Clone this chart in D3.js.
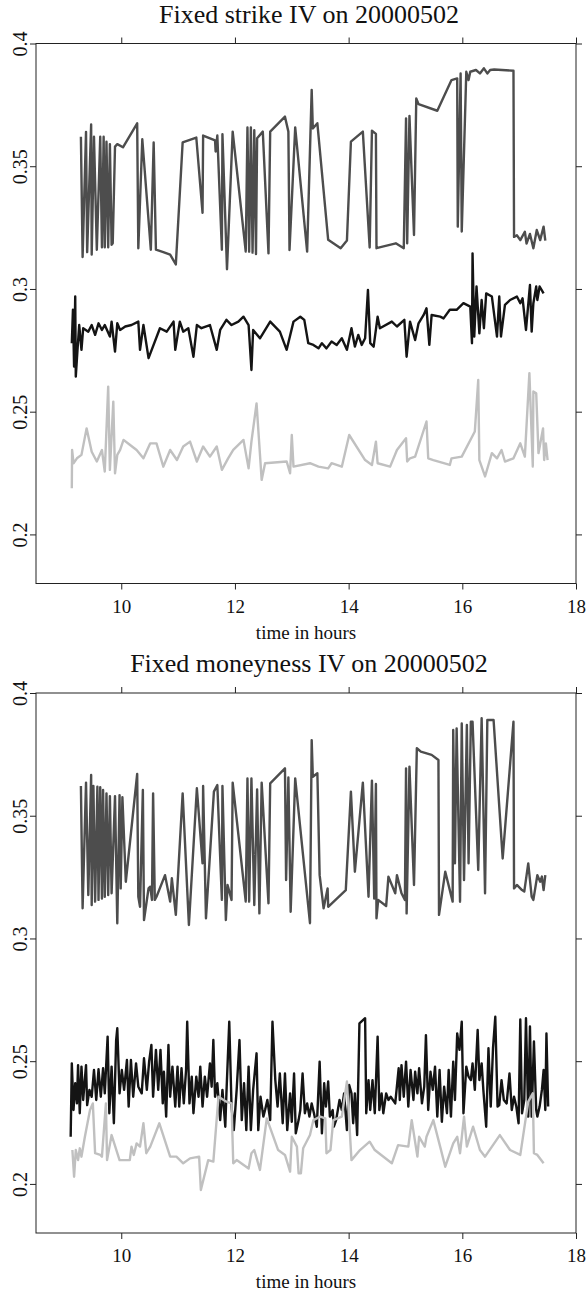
<!DOCTYPE html>
<html>
<head>
<meta charset="utf-8">
<script src="https://cdn.jsdelivr.net/npm/d3@7"></script>
<style>
	body { margin: 0; background: #fff; }
	svg { display: block; }
	text { font-family: "Liberation Serif", "Times New Roman", serif; fill: #111; }
</style>
</head>
<body>
<div id="graphic-wrapper"></div>
<script>
const X_TICKS = [10, 12, 14, 16, 18]
const Y_TICKS = [0.2, 0.25, 0.3, 0.35, 0.4]
const X_DOMAIN = [8.5, 18]
const Y_DOMAIN = [0.18, 0.4]
const X_LABEL = "time in hours"
const TITLES = ["Fixed strike IV on 20000502", "Fixed moneyness IV on 20000502"]

// [time in hours, implied vol]
const strikeHigh = [[9.29,0.362],[9.32,0.313],[9.38,0.364],[9.40,0.315],[9.47,0.367],[9.48,0.314],[9.52,0.362],[9.57,0.316],[9.63,0.362],[9.66,0.317],[9.69,0.362],[9.71,0.317],[9.74,0.360],[9.77,0.317],[9.80,0.359],[9.83,0.318],[9.85,0.3186],[9.89,0.358],[9.93,0.359],[10.03,0.3577],[10.28,0.3675],[10.30,0.3166],[10.37,0.361],[10.52,0.316],[10.57,0.3597],[10.61,0.316],[10.74,0.315],[10.86,0.314],[10.96,0.310],[11.08,0.3597],[11.32,0.3617],[11.43,0.331],[11.44,0.3625],[11.65,0.3605],[11.66,0.356],[11.69,0.3625],[11.77,0.316],[11.78,0.363],[11.86,0.308],[11.96,0.3641],[12.19,0.3152],[12.22,0.3658],[12.25,0.3152],[12.28,0.3658],[12.31,0.3148],[12.34,0.3647],[12.37,0.3142],[12.39,0.3614],[12.49,0.3641],[12.59,0.3145],[12.62,0.3641],[12.88,0.3702],[12.94,0.3641],[12.96,0.3159],[13.06,0.3658],[13.27,0.3152],[13.35,0.3811],[13.37,0.3654],[13.45,0.3675],[13.64,0.3200],[13.86,0.3166],[13.97,0.3197],[14.04,0.3600],[14.25,0.3641],[14.37,0.3169],[14.41,0.3645],[14.48,0.3632],[14.49,0.3166],[14.83,0.3186],[14.97,0.3166],[15.01,0.3695],[15.03,0.3186],[15.07,0.3705],[15.15,0.3220],[15.19,0.3776],[15.23,0.3753],[15.56,0.3726],[15.81,0.3851],[15.91,0.3858],[15.92,0.3254],[15.97,0.3878],[15.99,0.3234],[16.07,0.3885],[16.11,0.3851],[16.14,0.3885],[16.24,0.3892],[16.31,0.3878],[16.38,0.3899],[16.44,0.3878],[16.49,0.3892],[16.56,0.3894],[16.90,0.3889],[16.91,0.3212],[16.96,0.3219],[17.02,0.3199],[17.10,0.3233],[17.13,0.3185],[17.19,0.3224],[17.25,0.3166],[17.31,0.3240],[17.37,0.3199],[17.43,0.3254],[17.46,0.3197]]

const strikeMid = [[9.13,0.2779],[9.15,0.2915],[9.17,0.2684],[9.19,0.2969],[9.20,0.2643],[9.23,0.2752],[9.26,0.2853],[9.30,0.2752],[9.33,0.2840],[9.42,0.2826],[9.48,0.2853],[9.54,0.2813],[9.60,0.2860],[9.66,0.2833],[9.71,0.2853],[9.80,0.2806],[9.83,0.2867],[9.89,0.2745],[9.93,0.2860],[9.98,0.2833],[10.07,0.2847],[10.18,0.2853],[10.30,0.2867],[10.33,0.2752],[10.39,0.2853],[10.48,0.2718],[10.68,0.2840],[10.80,0.2826],[10.92,0.2867],[10.95,0.2752],[11.03,0.2867],[11.09,0.2826],[11.18,0.2840],[11.27,0.2724],[11.33,0.2853],[11.41,0.2840],[11.56,0.2853],[11.68,0.2752],[11.74,0.2833],[11.85,0.2874],[11.94,0.2853],[12.06,0.2867],[12.15,0.2887],[12.24,0.2853],[12.29,0.2670],[12.32,0.2833],[12.44,0.2799],[12.62,0.2867],[12.79,0.2826],[12.91,0.2752],[13.03,0.2867],[13.15,0.2887],[13.22,0.2874],[13.29,0.2779],[13.38,0.2772],[13.47,0.2758],[13.53,0.2779],[13.61,0.2758],[13.70,0.2786],[13.79,0.2772],[13.88,0.2799],[13.97,0.2752],[14.05,0.2840],[14.11,0.2765],[14.17,0.2813],[14.23,0.2772],[14.29,0.2799],[14.34,0.2996],[14.38,0.2779],[14.44,0.2765],[14.51,0.2887],[14.55,0.2840],[14.76,0.2867],[14.85,0.2847],[14.98,0.2874],[15.02,0.2724],[15.08,0.2867],[15.17,0.2792],[15.23,0.2860],[15.32,0.2894],[15.37,0.2921],[15.42,0.2772],[15.46,0.2894],[15.61,0.2887],[15.67,0.2880],[15.78,0.2915],[15.90,0.2915],[16.02,0.2942],[16.14,0.2928],[16.17,0.2779],[16.18,0.3145],[16.21,0.2806],[16.25,0.3010],[16.30,0.2819],[16.34,0.2955],[16.38,0.2840],[16.42,0.2982],[16.52,0.2969],[16.61,0.2806],[16.65,0.2969],[16.68,0.2806],[16.75,0.2935],[16.84,0.2955],[16.96,0.2969],[17.02,0.2942],[17.06,0.2962],[17.12,0.2833],[17.19,0.3016],[17.22,0.2826],[17.25,0.2942],[17.30,0.3010],[17.32,0.2955],[17.36,0.3010],[17.43,0.2982]]

const strikeLow = [[9.13,0.2188],[9.135,0.2344],[9.16,0.2290],[9.22,0.2310],[9.30,0.2324],[9.39,0.2432],[9.48,0.2337],[9.57,0.2297],[9.66,0.2344],[9.71,0.2256],[9.77,0.2602],[9.80,0.2263],[9.86,0.2541],[9.89,0.2249],[9.93,0.2324],[9.98,0.2344],[10.04,0.2385],[10.15,0.2365],[10.27,0.2344],[10.39,0.2310],[10.51,0.2371],[10.62,0.2371],[10.74,0.2276],[10.86,0.2344],[10.98,0.2303],[11.09,0.2358],[11.21,0.2378],[11.33,0.2297],[11.44,0.2358],[11.56,0.2317],[11.68,0.2358],[11.77,0.2263],[11.88,0.2310],[11.97,0.2344],[12.15,0.2385],[12.24,0.2269],[12.29,0.2378],[12.38,0.2534],[12.47,0.2222],[12.53,0.2290],[12.91,0.2297],[12.97,0.2249],[13.00,0.2405],[13.03,0.2276],[13.32,0.2290],[13.47,0.2276],[13.64,0.2269],[13.70,0.2290],[13.88,0.2276],[14.01,0.2405],[14.29,0.2303],[14.41,0.2283],[14.48,0.2378],[14.51,0.2290],[14.73,0.2276],[14.85,0.2344],[15.01,0.2392],[15.03,0.2297],[15.08,0.2310],[15.17,0.2317],[15.37,0.2460],[15.40,0.2310],[15.49,0.2303],[15.78,0.2283],[15.81,0.2310],[15.99,0.2317],[16.22,0.2419],[16.28,0.2629],[16.30,0.2303],[16.40,0.2236],[16.52,0.2331],[16.61,0.2310],[16.69,0.2344],[16.75,0.2297],[16.90,0.2310],[17.02,0.2371],[17.10,0.2317],[17.18,0.2657],[17.24,0.2276],[17.25,0.2582],[17.30,0.2575],[17.34,0.2331],[17.42,0.2432],[17.44,0.2303],[17.47,0.2371],[17.50,0.2303]]

const moneyHigh = [[9.29,0.3621],[9.32,0.3123],[9.38,0.3635],[9.42,0.3177],[9.47,0.3666],[9.48,0.3136],[9.51,0.3621],[9.54,0.3150],[9.58,0.3618],[9.60,0.3157],[9.63,0.3616],[9.66,0.3163],[9.68,0.3605],[9.71,0.3170],[9.74,0.3591],[9.77,0.3177],[9.80,0.3580],[9.83,0.3184],[9.89,0.3580],[9.93,0.3062],[9.97,0.3584],[9.99,0.3204],[10.02,0.3575],[10.08,0.3231],[10.28,0.3670],[10.30,0.3170],[10.33,0.3129],[10.38,0.3605],[10.40,0.3075],[10.48,0.3204],[10.51,0.3211],[10.54,0.3157],[10.56,0.3591],[10.59,0.3157],[10.62,0.3170],[10.77,0.3258],[10.86,0.3150],[10.89,0.3245],[10.96,0.3096],[11.08,0.3591],[11.19,0.3055],[11.33,0.3612],[11.43,0.3306],[11.44,0.3621],[11.49,0.3082],[11.63,0.3598],[11.69,0.3625],[11.77,0.3157],[11.78,0.3621],[11.84,0.3075],[11.87,0.3218],[11.94,0.3157],[11.96,0.3635],[12.19,0.3150],[12.22,0.3652],[12.25,0.3150],[12.29,0.3652],[12.34,0.3136],[12.39,0.3607],[12.43,0.3102],[12.47,0.3635],[12.59,0.3143],[12.62,0.3632],[12.88,0.3693],[12.90,0.3238],[12.94,0.3656],[12.98,0.3109],[13.06,0.3652],[13.32,0.3062],[13.35,0.3808],[13.37,0.3659],[13.45,0.3673],[13.49,0.3258],[13.56,0.3123],[13.63,0.3204],[13.64,0.3129],[13.95,0.3197],[14.04,0.3598],[14.11,0.3272],[14.25,0.3635],[14.35,0.3170],[14.41,0.3643],[14.45,0.3163],[14.48,0.3629],[14.49,0.3082],[14.52,0.3157],[14.66,0.3132],[14.70,0.3252],[14.82,0.3184],[14.85,0.3258],[14.93,0.3184],[14.99,0.3157],[15.01,0.3693],[15.02,0.3102],[15.07,0.3700],[15.15,0.3218],[15.20,0.3775],[15.27,0.3761],[15.46,0.3748],[15.58,0.3727],[15.59,0.3096],[15.70,0.3272],[15.83,0.3150],[15.84,0.3849],[15.87,0.3306],[15.90,0.3856],[15.96,0.3150],[15.99,0.3876],[16.03,0.3238],[16.08,0.3870],[16.11,0.3306],[16.15,0.3883],[16.18,0.3883],[16.28,0.3279],[16.34,0.3897],[16.40,0.3184],[16.44,0.3890],[16.55,0.3890],[16.71,0.3326],[16.90,0.3883],[16.91,0.3204],[16.96,0.3218],[17.05,0.3197],[17.09,0.3191],[17.16,0.3306],[17.22,0.3170],[17.25,0.3157],[17.32,0.3258],[17.37,0.3231],[17.40,0.3252],[17.43,0.3197],[17.46,0.3258]]

const moneyMid = [[9.11,0.2192],[9.13,0.2491],[9.16,0.2301],[9.19,0.2410],[9.22,0.2328],[9.24,0.2484],[9.27,0.2288],[9.30,0.2478],[9.33,0.2342],[9.38,0.2484],[9.40,0.2321],[9.44,0.2383],[9.48,0.2355],[9.52,0.2464],[9.56,0.2342],[9.60,0.2467],[9.64,0.2355],[9.68,0.2471],[9.71,0.2369],[9.76,0.2600],[9.79,0.2288],[9.83,0.2478],[9.87,0.2247],[9.91,0.2586],[9.93,0.2634],[9.97,0.2369],[10.01,0.2464],[10.05,0.2383],[10.10,0.2505],[10.13,0.2315],[10.17,0.2505],[10.21,0.2355],[10.26,0.2491],[10.30,0.2396],[10.36,0.2369],[10.40,0.2512],[10.45,0.2383],[10.49,0.2498],[10.53,0.2566],[10.56,0.2355],[10.61,0.2546],[10.65,0.2383],[10.69,0.2546],[10.73,0.2328],[10.75,0.2457],[10.79,0.2274],[10.83,0.2566],[10.86,0.2355],[10.90,0.2478],[10.95,0.2315],[10.99,0.2478],[11.02,0.2315],[11.06,0.2471],[11.10,0.2328],[11.14,0.2464],[11.16,0.2661],[11.20,0.2328],[11.24,0.2437],[11.27,0.2288],[11.32,0.2437],[11.36,0.2355],[11.39,0.2478],[11.43,0.2315],[11.47,0.2437],[11.51,0.2355],[11.56,0.2491],[11.59,0.2396],[11.62,0.2586],[11.65,0.2355],[11.69,0.2410],[11.74,0.2260],[11.78,0.2383],[11.83,0.2233],[11.85,0.2369],[11.90,0.2661],[11.94,0.2315],[11.98,0.2219],[12.03,0.2383],[12.08,0.2586],[12.12,0.2260],[12.16,0.2410],[12.20,0.2219],[12.24,0.2478],[12.28,0.2219],[12.32,0.2383],[12.38,0.2532],[12.41,0.2219],[12.45,0.2355],[12.50,0.2274],[12.53,0.2301],[12.57,0.2342],[12.62,0.2260],[12.66,0.2661],[12.71,0.2423],[12.75,0.2315],[12.79,0.2450],[12.84,0.2247],[12.88,0.2450],[12.92,0.2219],[12.97,0.2369],[13.00,0.2253],[13.04,0.2450],[13.07,0.2206],[13.12,0.2260],[13.15,0.2301],[13.19,0.2450],[13.23,0.2288],[13.27,0.2328],[13.31,0.2274],[13.35,0.2328],[13.39,0.2288],[13.44,0.2233],[13.49,0.2498],[13.53,0.2206],[13.57,0.2410],[13.60,0.2315],[13.64,0.2417],[13.67,0.2274],[13.72,0.2301],[13.74,0.2233],[13.78,0.2260],[13.84,0.2342],[13.88,0.2301],[13.92,0.2369],[13.97,0.2219],[14.01,0.2403],[14.05,0.2369],[14.08,0.2247],[14.11,0.2369],[14.15,0.2199],[14.19,0.2654],[14.29,0.2675],[14.31,0.2288],[14.35,0.2423],[14.38,0.2301],[14.42,0.2423],[14.46,0.2288],[14.51,0.2600],[14.54,0.2301],[14.58,0.2369],[14.61,0.2288],[14.66,0.2369],[14.70,0.2342],[14.74,0.2355],[14.82,0.2328],[14.88,0.2471],[14.90,0.2342],[14.93,0.2484],[14.97,0.2355],[15.01,0.2498],[15.05,0.2315],[15.09,0.2464],[15.14,0.2342],[15.17,0.2457],[15.21,0.2369],[15.24,0.2471],[15.29,0.2328],[15.33,0.2396],[15.36,0.2606],[15.40,0.2301],[15.44,0.2457],[15.48,0.2383],[15.52,0.2478],[15.56,0.2274],[15.60,0.2464],[15.64,0.2253],[15.68,0.2396],[15.73,0.2288],[15.76,0.2464],[15.80,0.2274],[15.84,0.2498],[15.87,0.2342],[15.91,0.2613],[15.95,0.2546],[15.99,0.2661],[16.02,0.2288],[16.07,0.2478],[16.11,0.2437],[16.15,0.2423],[16.18,0.2491],[16.22,0.2383],[16.27,0.2627],[16.30,0.2423],[16.34,0.2491],[16.37,0.2383],[16.42,0.2233],[16.46,0.2553],[16.50,0.2315],[16.54,0.2553],[16.58,0.2681],[16.62,0.2315],[16.65,0.2321],[16.69,0.2423],[16.73,0.2342],[16.78,0.2328],[16.83,0.2450],[16.87,0.2301],[16.91,0.2355],[16.95,0.2315],[16.99,0.2247],[17.02,0.2670],[17.05,0.2288],[17.09,0.2342],[17.12,0.2675],[17.16,0.2274],[17.19,0.2641],[17.22,0.2274],[17.26,0.2580],[17.30,0.2301],[17.32,0.2274],[17.36,0.2315],[17.40,0.2383],[17.43,0.2464],[17.46,0.2301],[17.48,0.2613],[17.51,0.2315]]

const moneyLow = [[9.14,0.2138],[9.17,0.2029],[9.20,0.2138],[9.24,0.2097],[9.27,0.2145],[9.30,0.2111],[9.36,0.2192],[9.45,0.2301],[9.50,0.2328],[9.54,0.2125],[9.63,0.2118],[9.66,0.2111],[9.73,0.2328],[9.75,0.2097],[9.83,0.2199],[9.97,0.2097],[10.15,0.2097],[10.18,0.2152],[10.22,0.2118],[10.27,0.2165],[10.33,0.2152],[10.39,0.2247],[10.44,0.2125],[10.51,0.2152],[10.67,0.2247],[10.86,0.2111],[10.97,0.2111],[11.09,0.2084],[11.21,0.2104],[11.37,0.2111],[11.40,0.1975],[11.53,0.2097],[11.62,0.2091],[11.71,0.2355],[11.85,0.2335],[11.94,0.2328],[11.97,0.2084],[12.03,0.2097],[12.24,0.2063],[12.29,0.2125],[12.34,0.2138],[12.44,0.2057],[12.56,0.2267],[12.76,0.2138],[12.88,0.2118],[12.97,0.2050],[13.00,0.2192],[13.09,0.2152],[13.12,0.2043],[13.16,0.2043],[13.20,0.2145],[13.32,0.2199],[13.38,0.2260],[13.50,0.2274],[13.59,0.2267],[13.61,0.2125],[13.68,0.2138],[13.73,0.2260],[13.88,0.2274],[13.97,0.2417],[14.05,0.2097],[14.20,0.2138],[14.37,0.2172],[14.46,0.2138],[14.76,0.2084],[14.87,0.2158],[15.05,0.2152],[15.11,0.2260],[15.21,0.2111],[15.24,0.2192],[15.34,0.2152],[15.37,0.2192],[15.49,0.2260],[15.61,0.2152],[15.70,0.2070],[15.84,0.2165],[15.91,0.2192],[15.96,0.2125],[16.03,0.2274],[16.08,0.2152],[16.19,0.2233],[16.31,0.2138],[16.40,0.2111],[16.66,0.2199],[16.84,0.2138],[17.02,0.2118],[17.16,0.2335],[17.24,0.2369],[17.26,0.2125],[17.32,0.2118],[17.43,0.2084]]

const SERIES_COLORS = ["#4d4d4d", "#141414", "#c0c0c0"]

const WIDTH = 586
const HEIGHT = 1298
const MARGIN = { left: 36, right: 10 }
const PANEL_HEIGHT = 540
const PANEL_TOPS = [43.5, 693]
const TICK = 6

const svg = d3.select("#graphic-wrapper")
	.append("svg")
		.attr("width", WIDTH)
		.attr("height", HEIGHT)

const xScale = d3.scaleLinear()
	.domain(X_DOMAIN)
	.range([MARGIN.left, WIDTH - MARGIN.right])

function drawPanel(top, title, seriesList) {
	const yScale = d3.scaleLinear()
		.domain(Y_DOMAIN)
		.range([top + PANEL_HEIGHT, top])
	const bottom = top + PANEL_HEIGHT
	const left = xScale.range()[0]
	const right = xScale.range()[1]

	const g = svg.append("g")

	const lineGen = d3.line()
		.x(d => xScale(d[0]))
		.y(d => yScale(d[1]))

	const clipId = "clip" + Math.round(top)
	g.append("clipPath").attr("id", clipId)
		.append("rect")
			.attr("x", left).attr("y", top)
			.attr("width", right - left).attr("height", PANEL_HEIGHT)

	seriesList.forEach((s, i) => {
		g.append("path")
			.datum(s)
			.attr("clip-path", `url(#${clipId})`)
			.attr("d", lineGen)
			.attr("fill", "none")
			.attr("stroke", SERIES_COLORS[i])
			.attr("stroke-width", 2.4)
			.attr("stroke-linejoin", "round")
	})

	// axes on all four sides, labels only left and bottom
	const fmt = d => String(d)
	const bottomAxis = g.append("g")
		.attr("transform", `translate(0,${bottom})`)
		.call(d3.axisBottom(xScale).tickValues(X_TICKS).tickSize(TICK).tickPadding(4).tickFormat(fmt))
	const topAxis = g.append("g")
		.attr("transform", `translate(0,${top})`)
		.call(d3.axisTop(xScale).tickValues(X_TICKS).tickSize(TICK).tickFormat(""))
	const leftAxis = g.append("g")
		.attr("transform", `translate(${left},0)`)
		.call(d3.axisLeft(yScale).tickValues(Y_TICKS).tickSize(TICK).tickFormat(fmt))
	const rightAxis = g.append("g")
		.attr("transform", `translate(${right},0)`)
		.call(d3.axisRight(yScale).tickValues(Y_TICKS).tickSize(TICK).tickFormat(""))

	;[bottomAxis, topAxis, leftAxis, rightAxis].forEach(ax => {
		ax.select(".domain").remove()
		ax.selectAll(".tick line").attr("stroke", "#222").attr("stroke-width", 1)
	})

	bottomAxis.selectAll(".tick text")
		.attr("font-size", 19)
		.attr("font-family", "Liberation Serif, serif")
		.attr("fill", "#111")
		.attr("dy", null)
		.attr("y", 29)

	leftAxis.selectAll(".tick text")
		.attr("font-size", 20)
		.attr("font-family", "Liberation Serif, serif")
		.attr("fill", "#111")
		.attr("text-anchor", "middle")
		.attr("x", null)
		.attr("dy", null)
		.attr("transform", "translate(-9,0) rotate(-90)")

	g.append("rect")
		.attr("x", left)
		.attr("y", top)
		.attr("width", right - left)
		.attr("height", PANEL_HEIGHT)
		.attr("fill", "none")
		.attr("stroke", "#222")
		.attr("stroke-width", 1)

	g.append("text")
		.attr("x", (left + right) / 2)
		.attr("y", bottom + 55)
		.attr("text-anchor", "middle")
		.attr("font-size", 19)
		.text(X_LABEL)

	g.append("text")
		.attr("x", (left + right) / 2 + 3)
		.attr("y", top - 21)
		.attr("text-anchor", "middle")
		.attr("font-size", 26)
		.text(title)
}

drawPanel(PANEL_TOPS[0], TITLES[0], [strikeHigh, strikeMid, strikeLow])
drawPanel(PANEL_TOPS[1], TITLES[1], [moneyHigh, moneyMid, moneyLow])
</script>
</body>
</html>
